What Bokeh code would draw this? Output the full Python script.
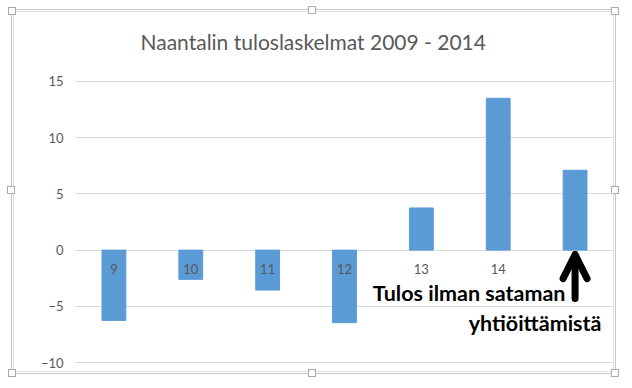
from bokeh.plotting import figure
from bokeh.models import (Range1d, FactorRange, FixedTicker, Label, Arrow,
                          OpenHead, ColumnDataSource, Title)
from bokeh.core.properties import value
from bokeh.embed import file_html
from bokeh.resources import INLINE

# ---- data ----
categories = ["9", "10", "11", "12", "13", "14", "15"]
results = [-6.25, -2.6, -3.55, -6.45, 3.75, 13.5, 7.1]
category_labels = ["9", "10", "11", "12", "13", "14", ""]
y_ticks = [-10, -5, 0, 5, 10, 15]
title_text = "Naantalin tuloslaskelmat 2009 - 2014"
note_lines = ["Tulos ilman sataman", "yhtiöittämistä"]
note_category_index = 6          # the "15" bar
note_y = [-3.83, -6.5]
arrow_from, arrow_to = -4.3, -0.4

# ---- style ----
W, H = 632, 388
BAR = "#5b9bd5"
GREY_TXT = "#595959"
GRID = "#d9d9d9"
FONT = "Lato"


def frame_css():
    """Excel-like selection frame (double grey line + handles) as a CSS background."""
    imgs, sizes, poss = [], [], []
    handles = [(8, 7), (308, 6), (611, 7), (7, 186), (611, 186),
               (8, 369), (308, 369), (611, 369)]
    for (hx, hy) in handles:
        imgs.append("linear-gradient(#ffffff,#ffffff)")
        sizes.append("6px 6px")
        poss.append(f"{hx + 1}px {hy + 1}px")
    for (hx, hy) in handles:
        imgs.append("linear-gradient(#a9a9a9,#a9a9a9)")
        sizes.append("8px 8px")
        poss.append(f"{hx}px {hy}px")
    for (l, t, r, b, c) in [(11, 9, 615, 373, "#c6c6c6"),
                            (13, 11, 613, 371, "#e0e0e0")]:
        g = f"linear-gradient({c},{c})"
        for (sz, ps) in [(f"{r - l + 1}px 1px", f"{l}px {t}px"),
                         (f"{r - l + 1}px 1px", f"{l}px {b}px"),
                         (f"1px {b - t + 1}px", f"{l}px {t}px"),
                         (f"1px {b - t + 1}px", f"{r}px {t}px")]:
            imgs.append(g)
            sizes.append(sz)
            poss.append(ps)
    return {"background-color": "#ffffff",
            "background-image": ",".join(imgs),
            "background-size": ",".join(sizes),
            "background-position": ",".join(poss),
            "background-repeat": "no-repeat"}


p = figure(width=W, height=H, output_backend="svg", toolbar_location=None,
           x_range=FactorRange(*categories), y_range=Range1d(-10.08, 15.08),
           min_border_left=75, min_border_right=19, min_border_top=80,
           min_border_bottom=25, title=None)
p.outline_line_color = None
p.background_fill_color = None
p.border_fill_color = None
p.styles = frame_css()

src = ColumnDataSource(dict(x=categories, top=results, lab=category_labels,
                            zero=[0] * len(categories)))
p.vbar(x="x", top="top", width=0.31, color=BAR, source=src)

p.text(x="x", y="zero", text="lab", source=src, y_offset=19,
       text_align="center", text_baseline="middle",
       text_font=value(FONT), text_font_size="13px", text_color=GREY_TXT)

p.xaxis.visible = False
p.xgrid.grid_line_color = None
p.ygrid.grid_line_color = GRID
p.ygrid.ticker = FixedTicker(ticks=y_ticks)
ax = p.yaxis[0]
ax.ticker = FixedTicker(ticks=y_ticks)
ax.axis_line_color = None
ax.major_tick_line_color = None
ax.minor_tick_line_color = None
ax.major_tick_out = 0
ax.major_tick_in = 0
ax.major_label_standoff = 12
ax.major_label_text_font = FONT
ax.major_label_text_font_size = "13px"
ax.major_label_text_color = GREY_TXT

# title
p.add_layout(Title(text=title_text, align="left", offset=65,
                   standoff=53, text_font=FONT, text_font_size="21px",
                   text_font_style="normal", text_color=GREY_TXT), "above")

# annotation text and arrow
cx = note_category_index + 0.5
p.add_layout(Label(x=cx, y=note_y[0], x_offset=-9.6, text=note_lines[0],
                   text_align="right", text_baseline="alphabetic",
                   text_font=FONT, text_font_style="bold",
                   text_font_size="21.5px", text_color="black"))
p.add_layout(Label(x=cx, y=note_y[1], x_offset=26.4, text=note_lines[1],
                   text_align="right", text_baseline="alphabetic",
                   text_font=FONT, text_font_style="bold",
                   text_font_size="21.5px", text_color="black"))
p.add_layout(Arrow(x_start=cx, y_start=arrow_from, x_end=cx, y_end=arrow_to,
                   line_width=7, line_cap="round", line_color="black",
                   end=OpenHead(size=24, line_width=7, line_cap="round",
                                line_join="round", line_color="black")))

open("out.html", "w").write(file_html(p, INLINE))
